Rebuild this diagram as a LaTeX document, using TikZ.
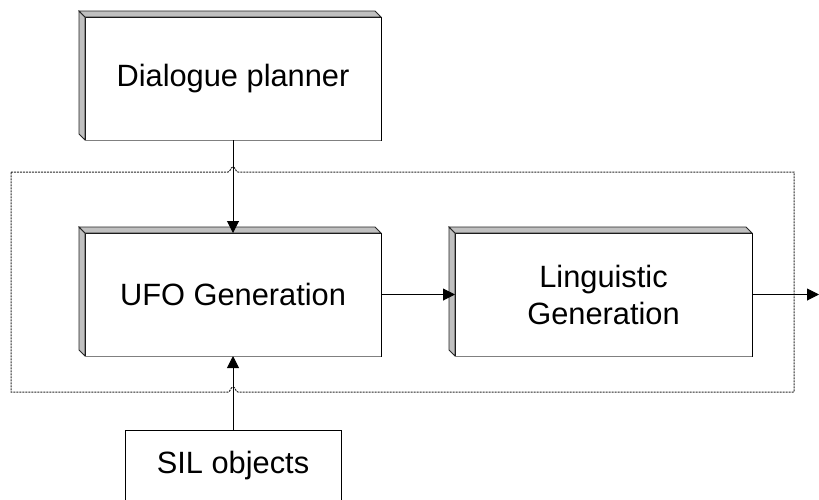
\documentclass[tikz,border=0pt]{standalone}
\usepackage{fontspec}
\setmainfont{Liberation Sans}
\usetikzlibrary{calc,arrows.meta}
\definecolor{bevelgray}{RGB}{192,192,192}
\tikzset{
  box/.style={draw=black, line width=1pt, fill=white, inner sep=0pt, outer sep=0pt,
    align=center, font=\fontsize{30.8}{37}\selectfont},
  bevelface/.style={fill=bevelgray, draw=black!85, line width=0.8pt, line join=miter},
  link/.style={draw=black, line width=1pt, -{Triangle[length=12pt,width=12pt]}},
  frame/.style={draw=black!85, line width=1pt, dash pattern=on 2pt off 1pt},
}
% raised left and top edges of a box node
\newcommand{\bevelof}[1]{%
  \draw[bevelface] (#1.north west) -- ++(-6,-6) -- ($(#1.south west)+(-6,-6)$) -- (#1.south west) -- cycle;
  \draw[bevelface] (#1.north west) -- ++(-6,-6) -- ($(#1.north east)+(-6,-6)$) -- (#1.north east) -- cycle;
  \draw[black!50, line width=1pt] (#1.south west) -- (#1.south east);
}
\begin{document}
\begin{tikzpicture}[x=1pt,y=-1pt]
\useasboundingbox (0,0) rectangle (819,499);
\clip (0,0) rectangle (819,499);

% dotted frame round the generation stage, with hops where the links cross it
\draw[frame] (11,172) -- (228,172)
  .. controls (230.5,172) and (230.5,167) .. (233,167)
  .. controls (235.5,167) and (235.5,172) .. (238,172)
  -- (794,172) -- (794,392) -- (238,392)
  .. controls (235.5,392) and (235.5,387) .. (233,387)
  .. controls (230.5,387) and (230.5,392) .. (228,392)
  -- (11,392) -- cycle;

\node[box, minimum width=296pt, minimum height=123pt] (dp) at (233,78.5) {Dialogue planner};
\node[box, minimum width=296pt, minimum height=123pt] (ufo) at (233,294.5) {UFO Generation};
\node[box, minimum width=297pt, minimum height=123pt] (lg) at (603.5,294.5) {Linguistic\\Generation};
\node[box, minimum width=216pt, minimum height=72pt] (sil) at (233,466) {SIL objects};

\bevelof{dp}
\bevelof{ufo}
\bevelof{lg}

\coordinate (out) at (819,294.5);

\draw[link] (dp.south) -- (ufo.north);
\draw[link] (ufo.east) -- (lg.west);
\draw[link] (lg.east) -- (out);
\draw[link] (sil.north) -- (ufo.south);
\end{tikzpicture}
\end{document}
